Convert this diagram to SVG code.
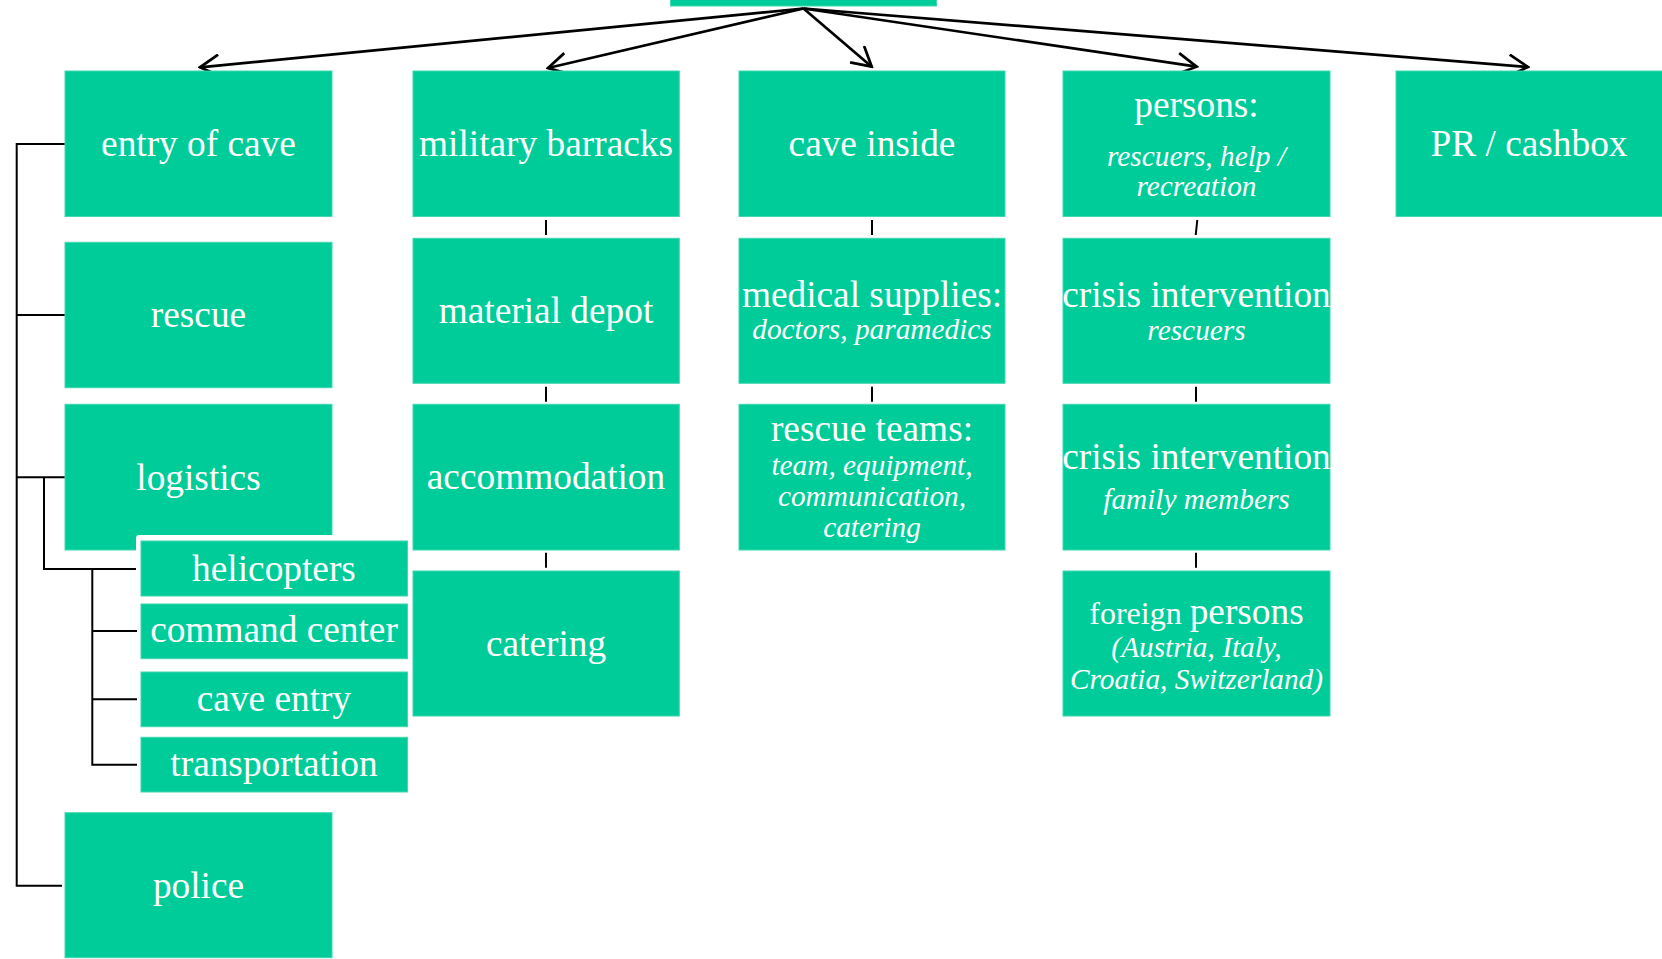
<svg xmlns="http://www.w3.org/2000/svg" width="1662" height="959" viewBox="0 0 1662 959">
<style>
.box{fill:#00CC99;stroke:#3fd8b0;stroke-width:1}
.t{font-family:"Liberation Serif","Times New Roman",serif;font-size:37.33px;fill:#fff;text-anchor:middle}
.i{font-family:"Liberation Serif","Times New Roman",serif;font-size:29.33px;font-style:italic;fill:#fff;text-anchor:middle}
.arr{fill:none;stroke:#000;stroke-width:2.7}
.ln{fill:none;stroke:#000;stroke-width:2}
</style>
<defs>
<marker id="ah" viewBox="0 0 20 20" refX="18" refY="10" markerWidth="24" markerHeight="24" markerUnits="userSpaceOnUse" orient="auto">
<path d="M2,1 L18,10 L2,19" fill="none" stroke="#000" stroke-width="2.3"/>
</marker>
</defs>
<rect width="1662" height="959" fill="#fff"/>

<g id="root"><rect class="box" x="670.5" y="-140" width="266" height="146"/></g>

<g id="connectors">
<path class="arr" marker-end="url(#ah)" d="M803.5,8.5 L200,67.3"/>
<path class="arr" marker-end="url(#ah)" d="M803.5,8.5 L548,68"/>
<path class="arr" marker-end="url(#ah)" d="M803.5,8.5 L871.7,66.7"/>
<path class="arr" marker-end="url(#ah)" d="M803.5,8.5 L1196.6,66.7"/>
<path class="arr" marker-end="url(#ah)" d="M803.5,8.5 L1528,67"/>
<path class="ln" d="M65,144 H16.7 V885.7 H62"/>
<path class="ln" d="M16.7,315 H65"/>
<path class="ln" d="M16.7,477.3 H65"/>
<path class="ln" d="M44,477.3 V569 H137"/>
<path class="ln" d="M92.3,569 V764.7 H137"/>
<path class="ln" d="M92.3,631 H137"/>
<path class="ln" d="M92.3,699.3 H137"/>
<path class="ln" d="M546,220 V235 M546,386.7 V401.7 M546,552.7 V567.7"/>
<path class="ln" d="M872,220 V235 M872,386.7 V401.7"/>
<path class="ln" d="M1197.3,220 L1195.7,235 M1196,386.7 V401.7 M1196,552.7 V567.7"/>
</g>

<g id="entry-of-cave"><rect class="box" x="65" y="71" width="267" height="145.5"/><text class="t" x="198.5" y="155.5">entry of cave</text></g>
<g id="rescue"><rect class="box" x="65" y="242.3" width="267" height="145.4"/><text class="t" x="198.5" y="326.5">rescue</text></g>
<g id="logistics"><rect class="box" x="65" y="404.3" width="267" height="145.7"/><text class="t" x="198.5" y="489.5">logistics</text></g>
<g id="police"><rect class="box" x="65" y="812.7" width="267" height="145"/><text class="t" x="198.5" y="897.5">police</text></g>

<g id="helicopters"><rect x="136" y="535" width="276.5" height="66" rx="3" fill="#fff"/><rect class="box" x="141" y="541" width="266.5" height="55"/><text class="t" x="274" y="580.5">helicopters</text></g>
<g id="command-center"><rect class="box" x="141" y="604" width="266.5" height="54.7"/><text class="t" x="274" y="642">command center</text></g>
<g id="cave-entry"><rect class="box" x="141" y="672" width="266.5" height="54.7"/><text class="t" x="274" y="710.5">cave entry</text></g>
<g id="transportation"><rect class="box" x="141" y="737.3" width="266.5" height="54.7"/><text class="t" x="274" y="775.5">transportation</text></g>

<g id="military-barracks"><rect class="box" x="413" y="71" width="266.3" height="145.5"/><text class="t" x="546" y="155.5">military barracks</text></g>
<g id="material-depot"><rect class="box" x="413" y="238.3" width="266.3" height="145"/><text class="t" x="546" y="322.5">material depot</text></g>
<g id="accommodation"><rect class="box" x="413" y="404.3" width="266.3" height="145.7"/><text class="t" x="546" y="489">accommodation</text></g>
<g id="catering"><rect class="box" x="413" y="571" width="266.3" height="145"/><text class="t" x="546" y="655.5">catering</text></g>

<g id="cave-inside"><rect class="box" x="739" y="71" width="266" height="145.5"/><text class="t" x="872" y="155.5">cave inside</text></g>
<g id="medical-supplies"><rect class="box" x="739" y="238.3" width="266" height="145"/><text class="t" x="872" y="307">medical supplies:</text><text class="i" x="872" y="339">doctors, paramedics</text></g>
<g id="rescue-teams"><rect class="box" x="739" y="404.3" width="266" height="145.7"/><text class="t" x="872" y="440.5">rescue teams:</text><text class="i" x="872" y="475">team, equipment,</text><text class="i" x="872" y="506">communication,</text><text class="i" x="872" y="537">catering</text></g>

<g id="persons"><rect class="box" x="1063" y="71" width="267" height="145.5"/><text class="t" x="1196.5" y="117">persons:</text><text class="i" x="1196.5" y="165.5">rescuers, help /</text><text class="i" x="1196.5" y="195.5">recreation</text></g>
<g id="crisis-rescuers"><rect class="box" x="1063" y="238.3" width="267" height="145"/><text class="t" x="1196.5" y="307">crisis intervention</text><text class="i" x="1196.5" y="339.5">rescuers</text></g>
<g id="crisis-family"><rect class="box" x="1063" y="404.3" width="267" height="145.7"/><text class="t" x="1196.5" y="468.5">crisis intervention</text><text class="i" x="1196.5" y="508.5">family members</text></g>
<g id="foreign-persons"><rect class="box" x="1063" y="571" width="267" height="145"/><text class="t" x="1196.5" y="623.5"><tspan font-size="32px">foreign </tspan>persons</text><text class="i" x="1196.5" y="657">(Austria, Italy,</text><text class="i" x="1196.5" y="688.5">Croatia, Switzerland)</text></g>

<g id="pr-cashbox"><rect class="box" x="1396" y="71" width="267" height="145.5"/><text class="t" x="1529" y="155.5">PR / cashbox</text></g>
</svg>
